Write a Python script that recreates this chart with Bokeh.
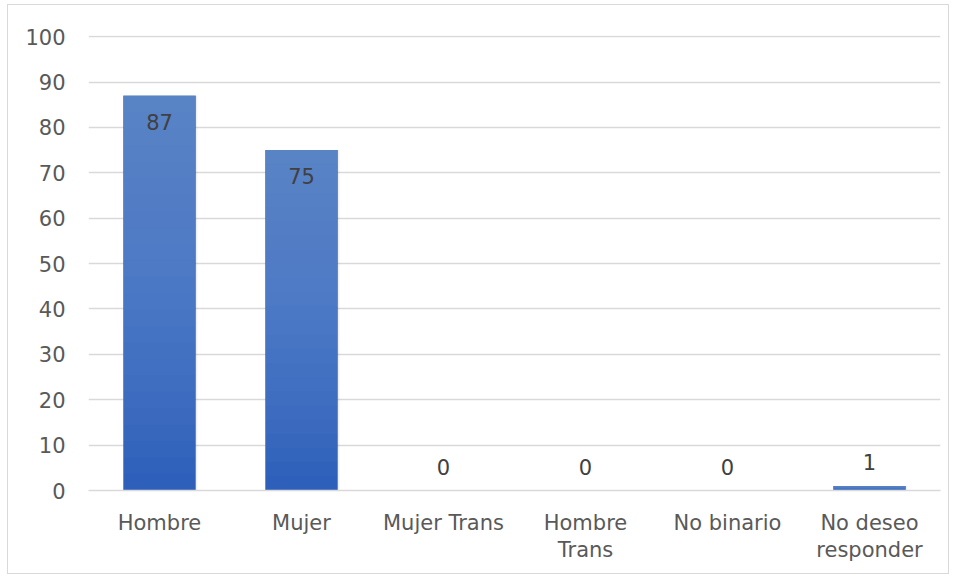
import numpy as np
from bokeh.plotting import figure
from bokeh.models import ColumnDataSource, FixedTicker, Range1d
from bokeh.core.properties import value
from bokeh.embed import file_html
from bokeh.resources import INLINE

categories = ["Hombre", "Mujer", "Mujer Trans", "Hombre Trans", "No binario", "No deseo responder"]
category_labels = ["Hombre", "Mujer", "Mujer Trans", "Hombre\nTrans", "No binario", "No deseo\nresponder"]
counts = [87, 75, 0, 0, 0, 1]
y_ticks = [0, 10, 20, 30, 40, 50, 60, 70, 80, 90, 100]

FONT = "DejaVu Sans"
TXT = "#595959"
FS = "21px"

x = np.arange(len(categories)) + 0.5
vals = np.array(counts, dtype=float)

p = figure(width=942, height=570, output_backend="svg", toolbar_location=None,
           x_range=Range1d(0, len(categories)), y_range=Range1d(0, 100.25),
           min_border_left=80, min_border_right=10, min_border_top=30, min_border_bottom=85)
p.outline_line_color = None
p.margin = (4, 0, 0, 7)
p.styles = {"border": "1.5px solid #D9D9D9"}

p.ygrid.grid_line_color = "#D9D9D9"
p.ygrid.grid_line_width = 1.5
p.xgrid.grid_line_color = None

p.yaxis.ticker = FixedTicker(ticks=y_ticks)
p.yaxis.axis_line_color = None
p.yaxis.major_tick_line_color = None
p.yaxis.minor_tick_line_color = None
p.yaxis.major_label_standoff = 17
p.yaxis.major_label_text_font = FONT
p.yaxis.major_label_text_font_size = FS
p.yaxis.major_label_text_color = TXT

p.xaxis.ticker = FixedTicker(ticks=list(x))
p.xaxis.major_label_overrides = {float(xi): lab for xi, lab in zip(x, category_labels)}
p.xaxis.axis_line_color = "#D9D9D9"
p.xaxis.axis_line_width = 1.5
p.xaxis.major_tick_line_color = None
p.xaxis.minor_tick_line_color = None
p.xaxis.major_label_standoff = 14
p.xaxis.major_label_text_font = FONT
p.xaxis.major_label_text_font_size = FS
p.xaxis.major_label_text_color = TXT
p.xaxis.major_label_text_line_height = 1.15

W = 0.51
# shadow
p.vbar(x=x + 0.012, top=vals, bottom=0, width=W, color="#000000", alpha=0.06, line_color=None)
# base (dark) bar
p.vbar(x=x, top=vals, bottom=0, width=W, color="#2E5FBA", line_color=None)
# gradient layers toward the top
N = 24
for k in range(1, N):
    p.vbar(x=x, top=vals, bottom=vals * k / N, width=W, color="#6F95D9", alpha=0.05, line_color=None)

# labels
inside = vals > 10
src_in = ColumnDataSource(dict(x=x[inside], y=vals[inside], t=[str(int(v)) for v in vals[inside]]))
src_out = ColumnDataSource(dict(x=x[~inside], y=vals[~inside], t=[str(int(v)) for v in vals[~inside]]))
p.text(x="x", y="y", text="t", source=src_in, text_align="center", text_baseline="middle",
       y_offset=26, text_font=value(FONT), text_font_size=FS, text_color="#404040")
p.text(x="x", y="y", text="t", source=src_out, text_align="center", text_baseline="middle",
       y_offset=-24, text_font=value(FONT), text_font_size=FS, text_color="#404040")

open("out.html", "w").write(file_html(p, INLINE))
